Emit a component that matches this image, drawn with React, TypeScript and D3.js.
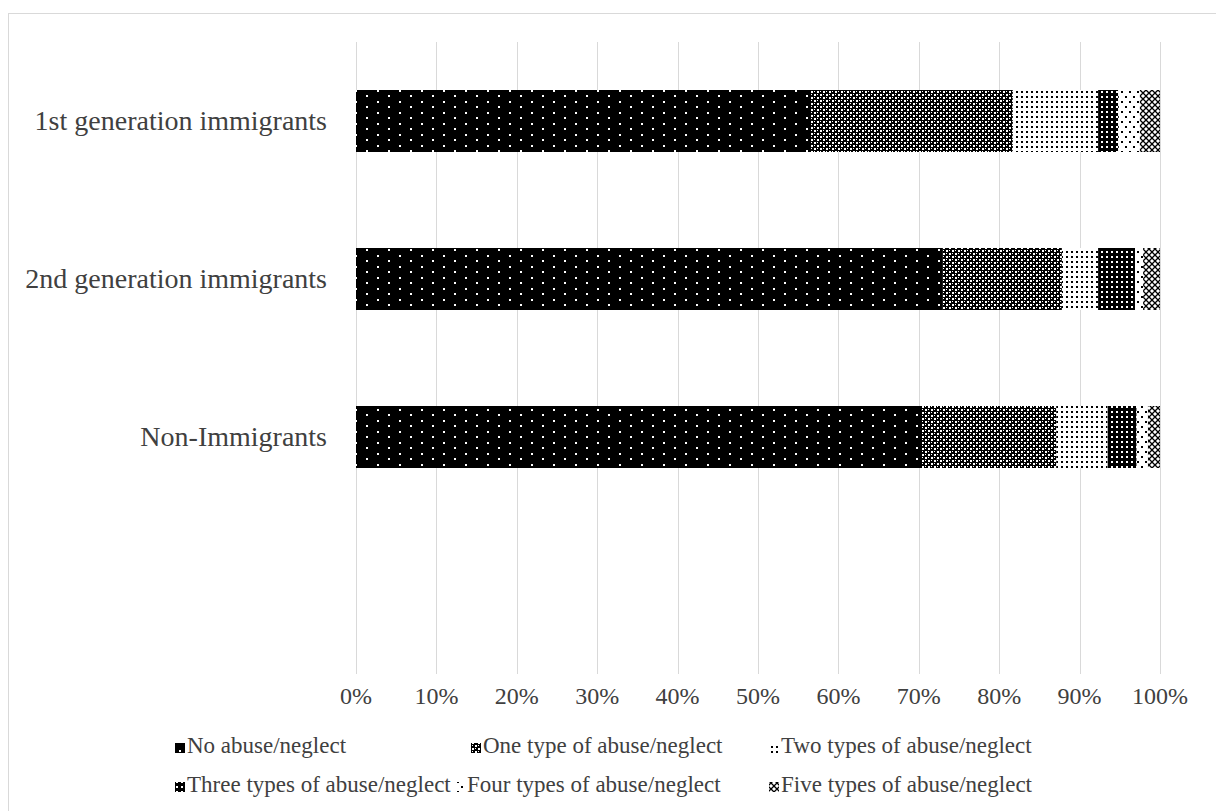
import * as d3 from "d3";

// categories, top to bottom as drawn
const categories = ["1st generation immigrants", "2nd generation immigrants", "Non-Immigrants"];
const seriesNames = [
  "No abuse/neglect",
  "One type of abuse/neglect",
  "Two types of abuse/neglect",
  "Three types of abuse/neglect",
  "Four types of abuse/neglect",
  "Five types of abuse/neglect",
];
// percent values per category (same order as categories)
const noAbuse = [56.6, 72.9, 70.4];
const oneType = [25.1, 14.9, 16.7];
const twoTypes = [10.6, 4.5, 6.4];
const threeTypes = [2.5, 4.6, 3.6];
const fourTypes = [2.7, 1.0, 1.4];
const fiveTypes = [2.5, 2.1, 1.5];
const tickValues = [0, 10, 20, 30, 40, 50, 60, 70, 80, 90, 100];

const seriesValues = [noAbuse, oneType, twoTypes, threeTypes, fourTypes, fiveTypes];

const W = 1216;
const H = 811;
const textColor = "#404040";
const font = "'Liberation Serif', 'Times New Roman', serif";

export default function App() {
  const x = d3.scaleLinear().domain([0, 100]).range([356, 1160]);
  // 4th (empty) slot at the bottom, like the blank row in the source
  const y = d3
    .scaleBand<string>()
    .domain([...categories, ""])
    .range([42, 674])
    .paddingInner(0.6076)
    .paddingOuter(0.3038);

  const rows = categories.map((c, i) => {
    const r: any = { cat: c };
    seriesNames.forEach((s, j) => (r[s] = seriesValues[j][i]));
    return r;
  });
  const stacked = d3.stack<any>().keys(seriesNames)(rows);

  // legend layout (two rows of three)
  const legendPos = [
    [175, 743],
    [471, 743],
    [769, 743],
    [175, 782],
    [455, 782],
    [769, 782],
  ];

  return (
    <svg width={W} height={H} style={{ position: "absolute", left: 0, top: 0, background: "#fff" }}>
      <defs>
        {/* black with white dots */}
        <pattern id="p0" patternUnits="userSpaceOnUse" width={22} height={11}>
          <rect width={22} height={11} fill="#000" />
          <rect x={3} y={2} width={2} height={2} fill="#fff" />
          <rect x={14} y={7} width={2} height={2} fill="#fff" />
        </pattern>
        {/* dense checker */}
        <pattern id="p1" patternUnits="userSpaceOnUse" width={6} height={6}>
          <rect width={6} height={6} fill="#000" />
          <rect x={1} y={1} width={2} height={2} fill="#fff" />
          <rect x={4} y={4} width={2} height={2} fill="#fff" />
          <rect x={4} y={1} width={1} height={1} fill="#fff" />
          <rect x={1} y={4} width={1} height={1} fill="#fff" />
        </pattern>
        {/* white with small black dots */}
        <pattern id="p2" patternUnits="userSpaceOnUse" width={5} height={5}>
          <rect width={5} height={5} fill="#fff" />
          <rect x={1} y={1} width={2} height={2} fill="#000" />
        </pattern>
        {/* black with white squares */}
        <pattern id="p3" patternUnits="userSpaceOnUse" width={5} height={5}>
          <rect width={5} height={5} fill="#000" />
          <rect x={1} y={1} width={2} height={2} fill="#fff" />
        </pattern>
        {/* sparse black dots */}
        <pattern id="p4" patternUnits="userSpaceOnUse" width={8} height={10}>
          <rect width={8} height={10} fill="#fff" />
          <rect x={1} y={1} width={2} height={2} fill="#000" />
          <rect x={5} y={6} width={2} height={2} fill="#000" />
        </pattern>
        {/* small crosses */}
        <pattern id="p5" patternUnits="userSpaceOnUse" width={6} height={6}>
          <rect width={6} height={6} fill="#fff" />
          <path d="M0,0L6,6M6,0L0,6" stroke="#000" strokeWidth={1.3} />
        </pattern>
      </defs>

      <rect x={8.5} y={13.5} width={1220} height={820} fill="none" stroke="#d9d9d9" />

      {/* gridlines */}
      {tickValues.map((t) => (
        <line
          key={t}
          x1={Math.round(x(t)) + 0.5}
          x2={Math.round(x(t)) + 0.5}
          y1={42}
          y2={674}
          stroke="#d9d9d9"
          strokeWidth={1}
        />
      ))}

      {/* bars */}
      {stacked.map((layer, j) => (
        <g key={layer.key} fill={`url(#p${j})`}>
          {layer.map((d, i) => (
            <rect
              key={i}
              x={x(d[0])}
              width={x(d[1]) - x(d[0])}
              y={y(d.data.cat)!}
              height={y.bandwidth()}
            />
          ))}
        </g>
      ))}

      {/* category labels */}
      {categories.map((c) => (
        <text
          key={c}
          x={327}
          y={y(c)! + y.bandwidth() / 2 + 9}
          textAnchor="end"
          fontFamily={font}
          fontSize={28}
          fill={textColor}
        >
          {c}
        </text>
      ))}

      {/* x tick labels */}
      {tickValues.map((t) => (
        <text
          key={t}
          x={x(t)}
          y={704}
          textAnchor="middle"
          fontFamily={font}
          fontSize={24}
          fill={textColor}
        >
          {d3.format(".0%")(t / 100)}
        </text>
      ))}

      {/* legend */}
      {seriesNames.map((s, j) => (
        <g key={s}>
          <rect x={legendPos[j][0]} y={legendPos[j][1]} width={10} height={10} fill={`url(#p${j})`} />
          <text
            x={legendPos[j][0] + 12}
            y={legendPos[j][1] + 10}
            fontFamily={font}
            fontSize={23}
            fill={textColor}
          >
            {s}
          </text>
        </g>
      ))}
    </svg>
  );
}
